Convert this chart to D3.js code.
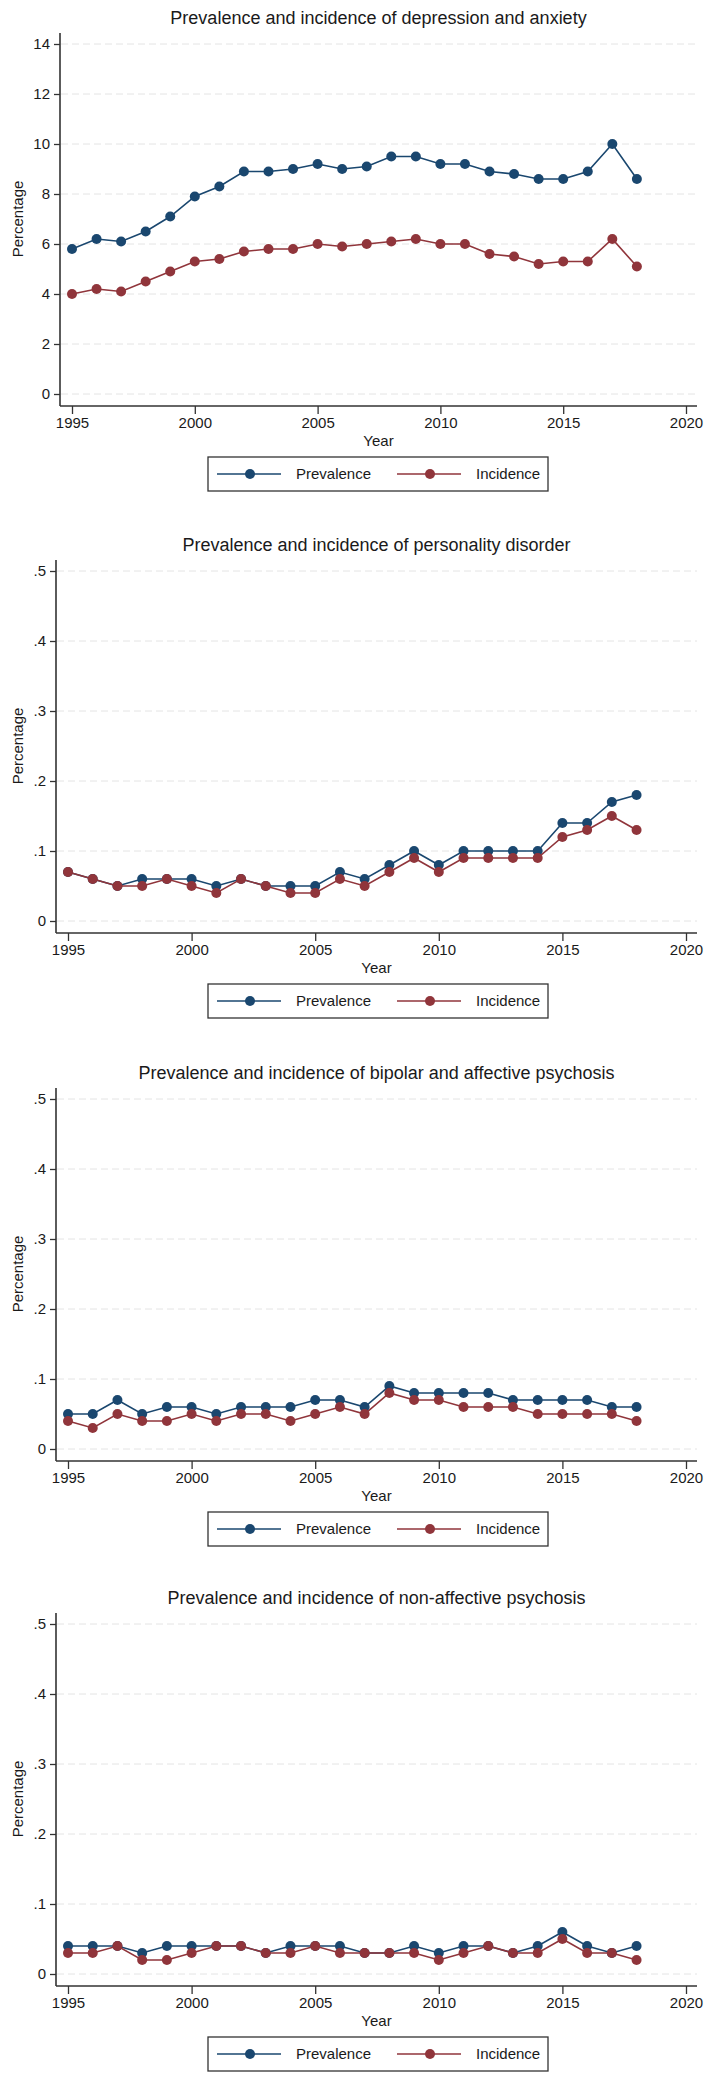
<!DOCTYPE html>
<html>
<head>
<meta charset="utf-8">
<script src="https://cdnjs.cloudflare.com/ajax/libs/d3/7.8.5/d3.min.js"></script>
<style>
  body { margin: 0; background: #fff; }
  text { font-family: "Liberation Sans", Arial, sans-serif; fill: #1a1a1a; }
</style>
</head>
<body>
<svg id="chart" width="705" height="2080"></svg>
<script>
// data
var years = [1995, 1996, 1997, 1998, 1999, 2000, 2001, 2002, 2003, 2004, 2005, 2006,
             2007, 2008, 2009, 2010, 2011, 2012, 2013, 2014, 2015, 2016, 2017, 2018];
var xTicks = [1995, 2000, 2005, 2010, 2015, 2020];

var titles = [
  "Prevalence and incidence of depression and anxiety",
  "Prevalence and incidence of personality disorder",
  "Prevalence and incidence of bipolar and affective psychosis",
  "Prevalence and incidence of non-affective psychosis"
];

var yTicksDep = [0, 2, 4, 6, 8, 10, 12, 14];
var yTicksSmall = [0, 0.1, 0.2, 0.3, 0.4, 0.5];

var depPrev = [5.8, 6.2, 6.1, 6.5, 7.1, 7.9, 8.3, 8.9, 8.9, 9.0, 9.2, 9.0,
               9.1, 9.5, 9.5, 9.2, 9.2, 8.9, 8.8, 8.6, 8.6, 8.9, 10.0, 8.6];
var depInc  = [4.0, 4.2, 4.1, 4.5, 4.9, 5.3, 5.4, 5.7, 5.8, 5.8, 6.0, 5.9,
               6.0, 6.1, 6.2, 6.0, 6.0, 5.6, 5.5, 5.2, 5.3, 5.3, 6.2, 5.1];

var persPrev = [0.07, 0.06, 0.05, 0.06, 0.06, 0.06, 0.05, 0.06, 0.05, 0.05, 0.05, 0.07,
                0.06, 0.08, 0.10, 0.08, 0.10, 0.10, 0.10, 0.10, 0.14, 0.14, 0.17, 0.18];
var persInc  = [0.07, 0.06, 0.05, 0.05, 0.06, 0.05, 0.04, 0.06, 0.05, 0.04, 0.04, 0.06,
                0.05, 0.07, 0.09, 0.07, 0.09, 0.09, 0.09, 0.09, 0.12, 0.13, 0.15, 0.13];

var bipPrev = [0.05, 0.05, 0.07, 0.05, 0.06, 0.06, 0.05, 0.06, 0.06, 0.06, 0.07, 0.07,
               0.06, 0.09, 0.08, 0.08, 0.08, 0.08, 0.07, 0.07, 0.07, 0.07, 0.06, 0.06];
var bipInc  = [0.04, 0.03, 0.05, 0.04, 0.04, 0.05, 0.04, 0.05, 0.05, 0.04, 0.05, 0.06,
               0.05, 0.08, 0.07, 0.07, 0.06, 0.06, 0.06, 0.05, 0.05, 0.05, 0.05, 0.04];

var psyPrev = [0.04, 0.04, 0.04, 0.03, 0.04, 0.04, 0.04, 0.04, 0.03, 0.04, 0.04, 0.04,
               0.03, 0.03, 0.04, 0.03, 0.04, 0.04, 0.03, 0.04, 0.06, 0.04, 0.03, 0.04];
var psyInc  = [0.03, 0.03, 0.04, 0.02, 0.02, 0.03, 0.04, 0.04, 0.03, 0.03, 0.04, 0.03,
               0.03, 0.03, 0.03, 0.02, 0.03, 0.04, 0.03, 0.03, 0.05, 0.03, 0.03, 0.02];

var seriesNames = ["Prevalence", "Incidence"];
var colors = ["#1a476f", "#90353b"];

var panels = [
  { title: titles[0], ticks: yTicksDep,   prev: depPrev,  inc: depInc,  top: 0,    axisX: 60 },
  { title: titles[1], ticks: yTicksSmall, prev: persPrev, inc: persInc, top: 527,  axisX: 56 },
  { title: titles[2], ticks: yTicksSmall, prev: bipPrev,  inc: bipInc,  top: 1055, axisX: 56 },
  { title: titles[3], ticks: yTicksSmall, prev: psyPrev,  inc: psyInc,  top: 1580, axisX: 56 }
];

var svg = d3.select("#chart");
var plotRight = 697, yTop = 44, yZero = 394, xAxisY = 406;

function fmtY(d) {
  return d === 0 ? "0" : String(+d.toFixed(2)).replace(/^0\./, ".");
}

panels.forEach(function(p) {
  var g = svg.append("g").attr("transform", "translate(0," + p.top + ")");
  var midX = (p.axisX + plotRight) / 2;

  var x = d3.scaleLinear().domain([1995, 2020]).range([p.axisX + 12, 686]);
  var y = d3.scaleLinear().domain([0, d3.max(p.ticks)]).range([yZero, yTop]);

  // title
  g.append("text")
    .attr("x", midX).attr("y", 24)
    .attr("text-anchor", "middle")
    .style("font-size", "18px")
    .text(p.title);

  // grid
  g.selectAll(".grid")
    .data(p.ticks)
    .enter().append("line")
      .attr("x1", p.axisX + 1).attr("x2", plotRight)
      .attr("y1", function(d) { return y(d); })
      .attr("y2", function(d) { return y(d); })
      .attr("stroke", "#e4e4e4")
      .attr("stroke-width", 1)
      .attr("stroke-dasharray", "7,4");

  // y axis
  var ya = g.append("g")
    .attr("transform", "translate(" + p.axisX + ",0)")
    .call(d3.axisLeft(y).tickValues(p.ticks).tickSize(6).tickPadding(4).tickFormat(fmtY));
  ya.select(".domain").remove();
  ya.selectAll("line").attr("stroke", "#333").attr("stroke-width", 1.3);
  ya.selectAll("text").style("font-size", "15px").attr("fill", "#1a1a1a");

  // x axis
  var xa = g.append("g")
    .attr("transform", "translate(0," + xAxisY + ")")
    .call(d3.axisBottom(x).tickValues(xTicks).tickSize(8).tickPadding(3).tickFormat(d3.format("d")));
  xa.select(".domain").remove();
  xa.selectAll("line").attr("stroke", "#333").attr("stroke-width", 1.3);
  xa.selectAll("text").style("font-size", "15px").attr("fill", "#1a1a1a");

  // axis frame lines
  g.append("line")
    .attr("x1", p.axisX).attr("x2", p.axisX)
    .attr("y1", 33).attr("y2", xAxisY)
    .attr("stroke", "#333").attr("stroke-width", 1.6);
  g.append("line")
    .attr("x1", p.axisX).attr("x2", plotRight)
    .attr("y1", xAxisY).attr("y2", xAxisY)
    .attr("stroke", "#333").attr("stroke-width", 1.6);

  // axis titles
  g.append("text")
    .attr("x", midX).attr("y", 446)
    .attr("text-anchor", "middle")
    .style("font-size", "15px")
    .text("Year");
  g.append("text")
    .attr("transform", "translate(23," + ((yTop + yZero) / 2) + ") rotate(-90)")
    .attr("text-anchor", "middle")
    .style("font-size", "15px")
    .text("Percentage");

  // series
  var line = d3.line()
    .x(function(d, i) { return x(years[i]); })
    .y(function(d) { return y(d); });

  [p.prev, p.inc].forEach(function(vals, k) {
    g.append("path")
      .datum(vals)
      .attr("fill", "none")
      .attr("stroke", colors[k])
      .attr("stroke-width", 1.6)
      .attr("d", line);
    g.selectAll(".pt" + k)
      .data(vals)
      .enter().append("circle")
        .attr("class", "pt" + k)
        .attr("cx", function(d, i) { return x(years[i]); })
        .attr("cy", function(d) { return y(d); })
        .attr("r", 5)
        .attr("fill", colors[k]);
  });

  // legend
  var lg = g.append("g").attr("transform", "translate(208,457)");
  lg.append("rect")
    .attr("width", 340).attr("height", 34)
    .attr("fill", "#fff").attr("stroke", "#333").attr("stroke-width", 1.3);
  var items = lg.selectAll(".item")
    .data(seriesNames)
    .enter().append("g")
      .attr("transform", function(d, i) { return "translate(" + (9 + i * 180) + ",17)"; });
  items.append("line")
    .attr("x1", 0).attr("x2", 64)
    .attr("stroke", function(d, i) { return colors[i]; })
    .attr("stroke-width", 1.6);
  items.append("circle")
    .attr("cx", 33).attr("r", 5)
    .attr("fill", function(d, i) { return colors[i]; });
  items.append("text")
    .attr("x", 79).attr("y", 5)
    .style("font-size", "15px")
    .text(function(d) { return d; });
});
</script>
</body>
</html>
